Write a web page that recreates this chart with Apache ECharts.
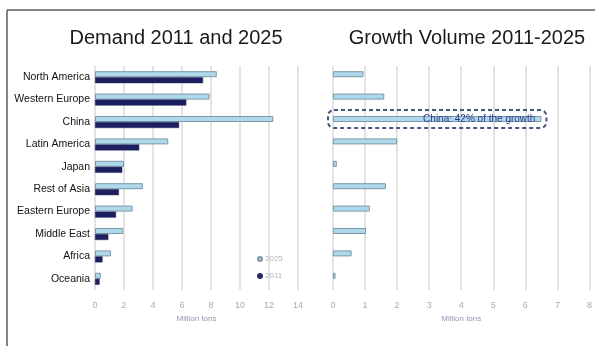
<!DOCTYPE html>
<html>
<head>
<meta charset="utf-8">
<script src="https://cdn.jsdelivr.net/npm/echarts@6/dist/echarts.min.js"></script>
<style>
  html, body { margin: 0; padding: 0; background: #fff; }
  #chart { width: 595px; height: 346px; }
</style>
</head>
<body>
<div id="chart"></div>
<script>
// Regional demand, million tons
const regions = ['North America', 'Western Europe', 'China', 'Latin America', 'Japan',
  'Rest of Asia', 'Eastern Europe', 'Middle East', 'Africa', 'Oceania'];
const demand2025 = [8.4, 7.9, 12.3, 5.05, 2.0, 3.3, 2.6, 1.95, 1.1, 0.4];
const demand2011 = [7.45, 6.3, 5.8, 3.05, 1.88, 1.65, 1.45, 0.92, 0.52, 0.32];
const growth = [0.95, 1.6, 6.5, 2.0, 0.12, 1.65, 1.15, 1.03, 0.58, 0.08];
const demandTicks = [0, 2, 4, 6, 8, 10, 12, 14];
const growthTicks = [0, 1, 2, 3, 4, 5, 6, 7, 8];

const chinaIdx = regions.indexOf('China');
const totalGrowth = growth.reduce((a, b) => a + b, 0);
const chinaShare = Math.round(growth[chinaIdx] / totalGrowth * 100);

const FONT = '"Liberation Sans", Arial, sans-serif';
const LIGHT = '#aed8ec';
const LIGHT_EDGE = '#7d98a6';
const DARK = '#1c1f5e';

const chart = echarts.init(document.getElementById('chart'), null, { renderer: 'canvas' });

const tickAxis = (ticks, gridIndex) => ({
  type: 'value',
  gridIndex,
  min: ticks[0],
  max: ticks[ticks.length - 1],
  interval: ticks[1] - ticks[0],
  name: 'Million tons',
  nameLocation: 'middle',
  nameGap: 25,
  nameTextStyle: { color: '#9c90b4', fontSize: 8, fontFamily: FONT },
  axisLine: { show: false },
  axisTick: { show: false },
  axisLabel: { color: '#a9abb6', fontSize: 9, fontFamily: FONT, margin: 11 },
  splitLine: { show: true, lineStyle: { color: '#dcdcdc', width: 1.6 } }
});

const growthData = growth.map((v, i) => i === chinaIdx ? {
  value: v,
  label: {
    show: true,
    position: 'insideRight',
    distance: 6,
    formatter: 'China: ' + chinaShare + '% of the growth',
    color: '#2c3c88',
    fontSize: 10,
    fontFamily: FONT
  }
} : v);

chart.setOption({
  animation: false,
  textStyle: { fontFamily: FONT },
  title: [
    { text: 'Demand 2011 and 2025', left: 171, top: 23, textAlign: 'center',
      textStyle: { fontSize: 20, fontWeight: 'normal', color: '#1a1a1a', fontFamily: FONT } },
    { text: 'Growth Volume 2011-2025', left: 462, top: 23, textAlign: 'center',
      textStyle: { fontSize: 20, fontWeight: 'normal', color: '#1a1a1a', fontFamily: FONT } }
  ],
  legend: {
    orient: 'vertical',
    left: 252,
    top: 250,
    itemWidth: 4,
    itemHeight: 4,
    itemGap: 9,
    icon: 'circle',
    data: ['2025', '2011'],
    textStyle: { color: '#b4b4bc', fontSize: 8, fontFamily: FONT, padding: [0, 0, 0, -2] }
  },
  grid: [
    { left: 95, width: 203, top: 66, height: 224 },
    { left: 333, width: 257, top: 66, height: 224 }
  ],
  xAxis: [tickAxis(demandTicks, 0), tickAxis(growthTicks, 1)],
  yAxis: [
    { type: 'category', gridIndex: 0, data: regions, inverse: true,
      axisLine: { show: false }, axisTick: { show: false },
      axisLabel: { color: '#111', fontSize: 10.5, fontFamily: FONT, margin: 5 } },
    { type: 'category', gridIndex: 1, data: regions, inverse: true,
      axisLine: { show: false }, axisTick: { show: false }, axisLabel: { show: false } }
  ],
  series: [
    { name: '2025', type: 'bar', xAxisIndex: 0, yAxisIndex: 0, data: demand2025,
      barWidth: 6, barGap: '0%',
      itemStyle: { color: LIGHT, borderColor: LIGHT_EDGE, borderWidth: 1 } },
    { name: '2011', type: 'bar', xAxisIndex: 0, yAxisIndex: 0, data: demand2011,
      barWidth: 6, barGap: '0%',
      itemStyle: { color: DARK, borderColor: '#2a2d66', borderWidth: 0.5 } },
    { name: 'growth', type: 'bar', xAxisIndex: 1, yAxisIndex: 1, data: growthData,
      barWidth: 6, barGap: '0%',
      itemStyle: { color: LIGHT, borderColor: LIGHT_EDGE, borderWidth: 1 } },
    // empty slot so growth bars line up with the 2025 bars on the left
    { name: 'slot', type: 'bar', xAxisIndex: 1, yAxisIndex: 1,
      data: regions.map(() => null), barWidth: 6, barGap: '0%' }
  ]
});

// Frame lines and the dashed callout around the China growth bar
const x0 = chart.convertToPixel({ xAxisIndex: 1 }, 0);
const x1 = chart.convertToPixel({ xAxisIndex: 1 }, growth[chinaIdx]);
const yc = chart.convertToPixel({ yAxisIndex: 1 }, regions[chinaIdx]);
chart.setOption({
  graphic: [
    { type: 'line', shape: { x1: 7, y1: 10, x2: 595, y2: 10 },
      style: { stroke: '#5a5a5a', lineWidth: 1.5 } },
    { type: 'line', shape: { x1: 7, y1: 10, x2: 7, y2: 346 },
      style: { stroke: '#5a5a5a', lineWidth: 1.5 } },
    { type: 'rect', z: 10,
      shape: { x: x0 - 5, y: yc - 12, width: x1 - x0 + 10, height: 18, r: 6 },
      style: { fill: 'none', stroke: '#47577a', lineWidth: 2, lineDash: [4, 3] } }
  ]
});
</script>
</body>
</html>
